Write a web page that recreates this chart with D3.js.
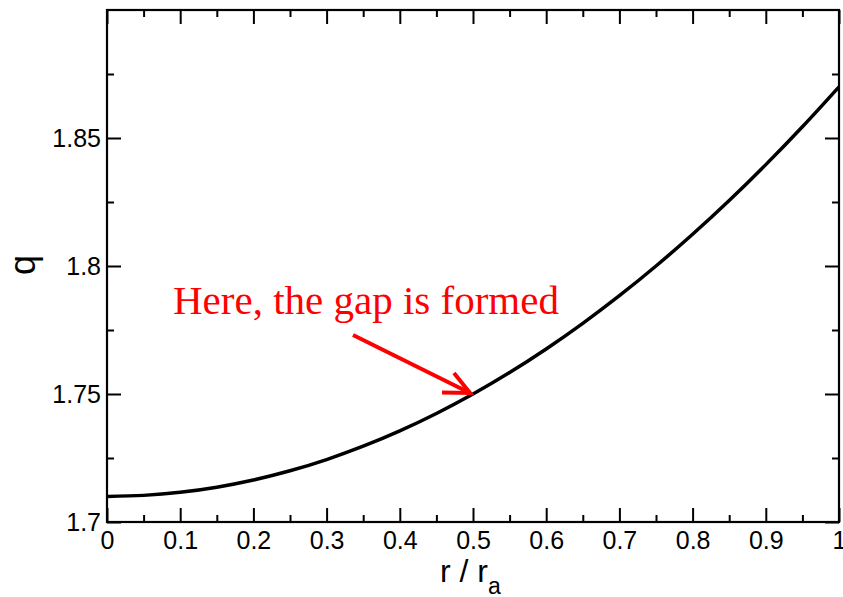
<!DOCTYPE html>
<html>
<head>
<meta charset="utf-8">
<script src="https://cdn.jsdelivr.net/npm/d3@7"></script>
<style>
  html, body { margin: 0; padding: 0; background: #fff; }
  svg { display: block; }
</style>
</head>
<body>
<svg id="chart" width="843" height="597"></svg>
<script>
// Normalised radius r / r_a
const radius = [0, 0.05, 0.1, 0.15, 0.2, 0.25, 0.3, 0.35, 0.4, 0.45, 0.5,
                0.55, 0.6, 0.65, 0.7, 0.75, 0.8, 0.85, 0.9, 0.95, 1.0];
// Safety factor q along the radius
const qValues = [1.7100, 1.7104, 1.7116, 1.7136, 1.7164, 1.7200, 1.7244, 1.7296,
                 1.7356, 1.7424, 1.7500, 1.7584, 1.7676, 1.7776, 1.7884, 1.8000,
                 1.8124, 1.8256, 1.8396, 1.8544, 1.8700];
const xTicks = [0, 0.1, 0.2, 0.3, 0.4, 0.5, 0.6, 0.7, 0.8, 0.9, 1];
const xMinor = [0.05, 0.15, 0.25, 0.35, 0.45, 0.55, 0.65, 0.75, 0.85, 0.95];
const yTicks = [1.7, 1.75, 1.8, 1.85];
const yMinor = [1.725, 1.775, 1.825, 1.875];
const xTickLabels = ["0", "0.1", "0.2", "0.3", "0.4", "0.5", "0.6", "0.7", "0.8", "0.9", "1"];
const yTickLabels = ["1.7", "1.75", "1.8", "1.85"];
const annotation = "Here, the gap is formed";
const annotationPoint = { r: 0.5, q: 1.7500 };

const svg = d3.select("#chart");
const margin = { left: 107, top: 10, right: 4, bottom: 75 };
const W = 843 - margin.left - margin.right;
const H = 597 - margin.top - margin.bottom;

const x = d3.scaleLinear().domain([0, 1]).range([0, W]);
const y = d3.scaleLinear().domain([1.7, 1.9]).range([H, 0]);

const g = svg.append("g").attr("transform", `translate(${margin.left},${margin.top})`);

const font = "'Liberation Sans', Arial, Helvetica, sans-serif";
const MAJ = 14, MIN = 7;

function styleAxis(sel) {
  sel.select(".domain").remove();
  sel.selectAll(".tick line").attr("stroke", "#000").attr("stroke-width", 2);
  sel.selectAll(".tick text").attr("fill", "#000").style("font-family", font).style("font-size", "25px");
}

// bottom axis: major + minor inward ticks
g.append("g").attr("transform", `translate(0,${H})`)
  .call(d3.axisBottom(x).tickValues(xTicks).tickSize(-MAJ).tickPadding(9)
    .tickFormat((d, i) => xTickLabels[i]))
  .call(styleAxis);
g.append("g").attr("transform", `translate(0,${H})`)
  .call(d3.axisBottom(x).tickValues(xMinor).tickSize(-MIN).tickFormat(""))
  .call(styleAxis);
// top axis
g.append("g")
  .call(d3.axisTop(x).tickValues(xTicks).tickSize(-MAJ).tickFormat(""))
  .call(styleAxis);
g.append("g")
  .call(d3.axisTop(x).tickValues(xMinor).tickSize(-MIN).tickFormat(""))
  .call(styleAxis);
// left axis
g.append("g")
  .call(d3.axisLeft(y).tickValues(yTicks).tickSize(-MAJ).tickPadding(6)
    .tickFormat((d, i) => yTickLabels[i]))
  .call(styleAxis);
g.append("g")
  .call(d3.axisLeft(y).tickValues(yMinor).tickSize(-MIN).tickFormat(""))
  .call(styleAxis);
// right axis
g.append("g").attr("transform", `translate(${W},0)`)
  .call(d3.axisRight(y).tickValues(yTicks).tickSize(-MAJ).tickFormat(""))
  .call(styleAxis);
g.append("g").attr("transform", `translate(${W},0)`)
  .call(d3.axisRight(y).tickValues(yMinor).tickSize(-MIN).tickFormat(""))
  .call(styleAxis);

// frame
g.append("rect")
  .attr("x", 0).attr("y", 0).attr("width", W).attr("height", H)
  .attr("fill", "none").attr("stroke", "#000").attr("stroke-width", 2.2);

// q profile
const line = d3.line()
  .x((d, i) => x(radius[i]))
  .y(d => y(d))
  .curve(d3.curveMonotoneX);
g.append("path")
  .datum(qValues)
  .attr("d", line)
  .attr("fill", "none")
  .attr("stroke", "#000")
  .attr("stroke-width", 3.5);

// annotation text and arrow
const tipX = x(annotationPoint.r) - 3, tipY = y(annotationPoint.q) - 1;
g.append("text")
  .attr("x", 173 - margin.left).attr("y", 314 - margin.top)
  .attr("fill", "#ff0000")
  .style("font-family", "'Liberation Serif', 'Times New Roman', serif")
  .style("font-size", "41px")
  .text(annotation);

g.append("line")
  .attr("x1", 353 - margin.left).attr("y1", 335 - margin.top)
  .attr("x2", tipX).attr("y2", tipY)
  .attr("stroke", "#ff0000").attr("stroke-width", 4);
g.append("path")
  .attr("d", `M${tipX - 28},${tipY - 0.5} L${tipX},${tipY} L${tipX - 16},${tipY - 20}`)
  .attr("fill", "none").attr("stroke", "#ff0000").attr("stroke-width", 4)
  .attr("stroke-linejoin", "miter");

// axis titles
svg.append("text")
  .attr("x", 440).attr("y", 582)
  .style("font-family", font).style("font-size", "32px")
  .attr("fill", "#000")
  .text("r / r")
  .append("tspan")
  .attr("dy", 12)
  .style("font-size", "23px")
  .text("a");

svg.append("text")
  .attr("transform", "translate(35,265) rotate(-90)")
  .attr("text-anchor", "middle")
  .style("font-family", font).style("font-size", "36px")
  .attr("fill", "#000")
  .text("q");
</script>
</body>
</html>
